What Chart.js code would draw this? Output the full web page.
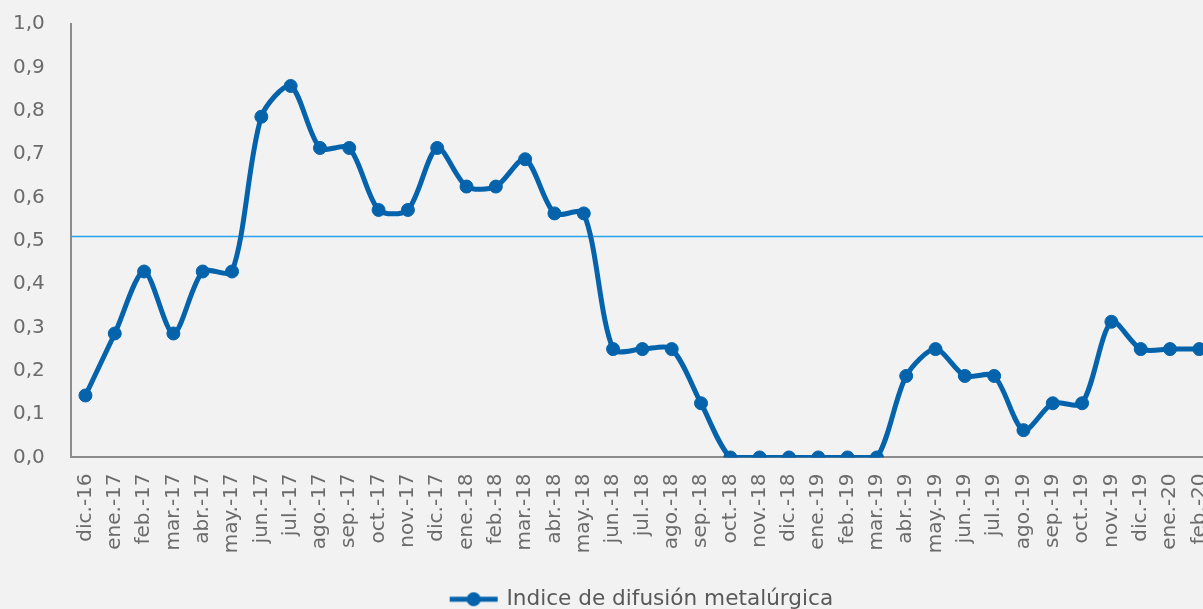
<!DOCTYPE html>
<html lang="es">
<head>
<meta charset="utf-8">
<title>Indice de difusión metalúrgica</title>
<script src="https://cdn.jsdelivr.net/npm/chart.js@4/dist/chart.umd.min.js"></script>
<style>
  html, body { margin: 0; padding: 0; background: #f2f2f2; overflow: hidden; }
  #marco { position: relative; top: -14px; left: -25px; width: 1291px; height: 634px; }
</style>
</head>
<body>
<div id="marco"><canvas id="grafico"></canvas></div>
<script>
// --- datos ---
const CATEGORIAS = [
  "dic.-16", "ene.-17", "feb.-17", "mar.-17", "abr.-17", "may.-17", "jun.-17", "jul.-17",
  "ago.-17", "sep.-17", "oct.-17", "nov.-17", "dic.-17", "ene.-18", "feb.-18", "mar.-18",
  "abr.-18", "may.-18", "jun.-18", "jul.-18", "ago.-18", "sep.-18", "oct.-18", "nov.-18",
  "dic.-18", "ene.-19", "feb.-19", "mar.-19", "abr.-19", "may.-19", "jun.-19", "jul.-19",
  "ago.-19", "sep.-19", "oct.-19", "nov.-19", "dic.-19", "ene.-20", "feb.-20"
];

const INDICE = [
  0.143, 0.286, 0.429, 0.286, 0.429, 0.429, 0.786, 0.857,
  0.714, 0.714, 0.571, 0.571, 0.714, 0.625, 0.625, 0.688,
  0.563, 0.563, 0.25, 0.25, 0.25, 0.125, 0, 0,
  0, 0, 0, 0, 0.188, 0.25, 0.188, 0.188,
  0.063, 0.125, 0.125, 0.313, 0.25, 0.25, 0.25
];

const UMBRAL = 0.51;          // línea horizontal de referencia
const Y_MIN = 0, Y_MAX = 1, Y_PASO = 0.1;

const AZUL = "#0563ac";
const CELESTE = "#29a3ef";
const GRIS_TEXTO = "#6b6b6b";
const GRIS_EJE = "#8c8c8c";

Chart.defaults.font.family = "'DejaVu Sans', sans-serif";
Chart.defaults.color = GRIS_TEXTO;

// icono de leyenda: trazo con punto en el medio
function iconoLeyenda() {
  const c = document.createElement("canvas");
  c.width = 50; c.height = 16;
  const g = c.getContext("2d");
  g.strokeStyle = AZUL; g.lineWidth = 5;
  g.beginPath(); g.moveTo(1, 8); g.lineTo(49, 8); g.stroke();
  g.fillStyle = AZUL;
  g.beginPath(); g.arc(25, 8, 7, 0, Math.PI * 2); g.fill();
  return c;
}

// línea de umbral dibujada con la escala Y
const lineaUmbral = {
  id: "lineaUmbral",
  beforeDatasetsDraw(chart) {
    const { ctx, chartArea, scales } = chart;
    const y = Math.round(scales.y.getPixelForValue(UMBRAL)) + 0.5;
    ctx.save();
    ctx.strokeStyle = CELESTE;
    ctx.lineWidth = 1.5;
    ctx.beginPath();
    ctx.moveTo(chartArea.left, y);
    ctx.lineTo(chartArea.right, y);
    ctx.stroke();
    ctx.restore();
  }
};

const icono = iconoLeyenda();

new Chart(document.getElementById("grafico"), {
  type: "line",
  data: {
    labels: CATEGORIAS,
    datasets: [{
      label: "Indice de difusión metalúrgica",
      data: INDICE,
      borderColor: AZUL,
      backgroundColor: AZUL,
      borderWidth: 5,
      tension: 0.28,
      pointRadius: 6.5,
      pointHoverRadius: 6.5,
      pointBackgroundColor: AZUL,
      pointBorderColor: AZUL,
      pointBorderWidth: 1,
      fill: false
    }]
  },
  options: {
    responsive: true,
    maintainAspectRatio: false,
    animation: false,
    layout: { padding: { top: 0, left: 12, right: 52, bottom: 0 } },
    plugins: {
      tooltip: { enabled: false },
      legend: {
        position: "bottom",
        fullSize: false,
        title: { display: true, text: "", font: { size: 1 }, padding: { top: 14, bottom: 0 } },
        labels: {
          usePointStyle: true,
          pointStyleWidth: 44,
          padding: 4,
          font: { size: 21.6 },
          color: "#595959",
          generateLabels: (chart) => chart.data.datasets.map((ds, i) => ({
            text: ds.label,
            pointStyle: icono,
            fillStyle: AZUL,
            strokeStyle: AZUL,
            lineWidth: 0,
            datasetIndex: i,
            fontColor: "#595959"
          }))
        }
      }
    },
    scales: {
      x: {
        offset: true,
        grid: { display: false, drawTicks: false },
        border: { display: true, color: GRIS_EJE, width: 2 },
        ticks: {
          autoSkip: false,
          minRotation: 90,
          maxRotation: 90,
          padding: 16,
          font: { size: 20 }
        }
      },
      y: {
        min: Y_MIN,
        max: Y_MAX,
        grid: { display: false, drawTicks: false },
        border: { display: true, color: GRIS_EJE, width: 2 },
        ticks: {
          stepSize: Y_PASO,
          padding: 26,
          font: { size: 20 },
          callback: v => v.toFixed(1).replace(".", ",")
        }
      }
    }
  },
  plugins: [lineaUmbral]
});
</script>
</body>
</html>
